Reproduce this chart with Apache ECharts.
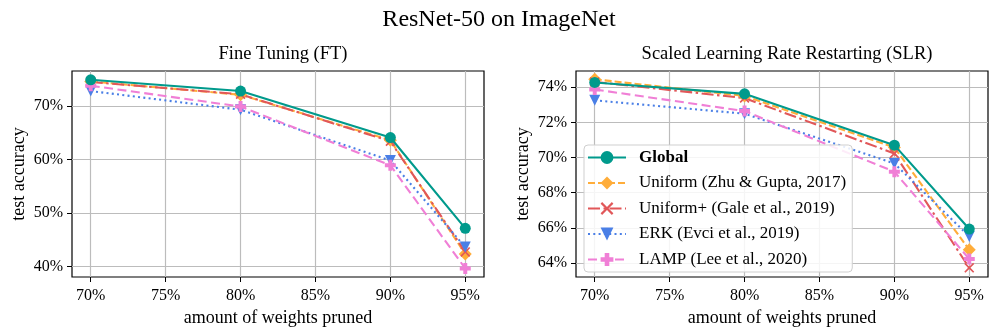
<!DOCTYPE html>
<html>
<head>
<meta charset="utf-8">
<script src="https://cdn.jsdelivr.net/npm/echarts@6/dist/echarts.min.js"></script>
<style>
html,body{margin:0;padding:0;background:#fff;}
#chart{width:989px;height:333px;}
</style>
</head>
<body>
<div id="chart"></div>
<script>
// ---- data ----
const prunedLevels = [70, 80, 90, 95];
const xTickValues = [70, 75, 80, 85, 90, 95];
const ftYTicks = [40, 50, 60, 70];
const slrYTicks = [64, 66, 68, 70, 72, 74];

const seriesNames = ['Global', 'Uniform (Zhu & Gupta, 2017)', 'Uniform+ (Gale et al., 2019)', 'ERK (Evci et al., 2019)', 'LAMP (Lee et al., 2020)'];

// Fine Tuning (FT)
const ftGlobal      = [74.9, 72.8, 64.1, 47.1];
const ftUniform     = [74.6, 72.1, 63.6, 42.3];
const ftUniformPlus = [74.5, 72.2, 63.4, 42.7];
const ftERK         = [72.8, 69.3, 59.8, 43.6];
const ftLAMP        = [73.8, 69.9, 58.9, 39.6];

// Scaled Learning Rate Restarting (SLR)
const slrGlobal      = [74.27, 73.62, 70.70, 65.93];
const slrUniform     = [74.45, 73.50, 70.57, 64.75];
const slrUniformPlus = [74.30, 73.38, 70.23, 63.72];
const slrERK         = [73.25, 72.49, 69.66, 65.51];
const slrLAMP        = [73.87, 72.64, 69.19, 64.22];

// ---- styles ----
const FONT = '"Liberation Serif", "DejaVu Serif", serif';
const styles = [
  {color: '#009a8c', type: 'solid', symbol: 'circle', size: 11, rotate: 0, z: 4},
  {color: '#ffad3a', type: [7, 3], symbol: 'diamond', size: 13, rotate: 0, z: 2},
  {color: '#e15759', type: [12, 3.5, 2.5, 3.5], symbol: 'path://M0,1.2L1.2,0L5,3.8L8.8,0L10,1.2L6.2,5L10,8.8L8.8,10L5,6.2L1.2,10L0,8.8L3.8,5Z', size: 10, rotate: 0, z: 2},
  {color: '#4a7fe6', type: [2, 3.3], symbol: 'triangle', size: 11, rotate: 180, z: 2},
  {color: '#f07fd6', type: [9, 4.5], symbol: 'path://M3.2,0H6.8V3.2H10V6.8H6.8V10H3.2V6.8H0V3.2H3.2Z', size: 11, rotate: 0, z: 3}
];

function makeSeries(values, idx, axisIdx) {
  const s = styles[idx];
  return {
    name: seriesNames[idx],
    type: 'line',
    xAxisIndex: axisIdx,
    yAxisIndex: axisIdx,
    data: prunedLevels.map((x, i) => [x, values[i]]),
    symbol: s.symbol,
    symbolSize: s.size,
    symbolRotate: s.rotate,
    showSymbol: true,
    z: s.z,
    lineStyle: {color: s.color, width: 2.1, type: s.type},
    itemStyle: {color: s.color, opacity: 1},
    emphasis: {disabled: true},
    animation: false
  };
}

function xAxisCfg(gridIndex) {
  return {
    type: 'value', gridIndex: gridIndex,
    min: 68.75, max: 96.25,
    name: 'amount of weights pruned', nameLocation: 'middle', nameGap: 31,
    nameTextStyle: {fontFamily: FONT, fontSize: 18, color: '#000'},
    axisLine: {show: false},
    axisTick: {show: true, length: 5, lineStyle: {color: '#000', width: 1}, customValues: xTickValues},
    axisLabel: {
      fontFamily: FONT, fontSize: 16, color: '#000', margin: 11,
      customValues: xTickValues,
      formatter: v => (xTickValues.indexOf(Math.round(v * 1000) / 1000) >= 0 ? v + '%' : '')
    },
    splitLine: {show: true, lineStyle: {color: '#bcbcbc', width: 1.2}}
  };
}

function yAxisCfg(gridIndex, min, max, ticks) {
  return {
    type: 'value', gridIndex: gridIndex,
    min: min, max: max,
    name: 'test accuracy', nameLocation: 'middle', nameGap: 44,
    nameTextStyle: {fontFamily: FONT, fontSize: 18, color: '#000'},
    axisLine: {show: false},
    axisTick: {show: true, length: 5, lineStyle: {color: '#000', width: 1}, customValues: ticks},
    axisLabel: {
      fontFamily: FONT, fontSize: 16, color: '#000', margin: 9,
      customValues: ticks,
      formatter: v => (ticks.indexOf(Math.round(v * 1000) / 1000) >= 0 ? v + '%' : '')
    },
    splitLine: {show: true, lineStyle: {color: '#bcbcbc', width: 1.2}}
  };
}

const ftData = [ftGlobal, ftUniform, ftUniformPlus, ftERK, ftLAMP];
const slrData = [slrGlobal, slrUniform, slrUniformPlus, slrERK, slrLAMP];

const series = [];
ftData.forEach((v, i) => series.push(makeSeries(v, i, 0)));
slrData.forEach((v, i) => series.push(makeSeries(v, i, 1)));

const chart = echarts.init(document.getElementById('chart'), null, {renderer: 'canvas'});
chart.setOption({
  animation: false,
  backgroundColor: '#fff',
  title: [
    {text: 'ResNet-50 on ImageNet', left: 494, textAlign: 'center', top: 3,
     textStyle: {fontFamily: FONT, fontSize: 24, fontWeight: 'normal', color: '#000'}},
    {text: 'Fine Tuning (FT)', left: 278, textAlign: 'center', top: 40,
     textStyle: {fontFamily: FONT, fontSize: 18.5, fontWeight: 'normal', color: '#000'}},
    {text: 'Scaled Learning Rate Restarting (SLR)', left: 782, textAlign: 'center', top: 40,
     textStyle: {fontFamily: FONT, fontSize: 18.5, fontWeight: 'normal', color: '#000'}}
  ],
  grid: [
    {left: 72, top: 71, width: 412, height: 206, show: true, borderColor: '#000', borderWidth: 1.2, backgroundColor: 'transparent'},
    {left: 576, top: 71, width: 412, height: 206, show: true, borderColor: '#000', borderWidth: 1.2, backgroundColor: 'transparent'}
  ],
  xAxis: [xAxisCfg(0), xAxisCfg(1)],
  yAxis: [yAxisCfg(0, 38.0, 76.55, ftYTicks), yAxisCfg(1, 63.2, 74.92, slrYTicks)],
  legend: {
    orient: 'vertical',
    left: 584, top: 145,
    itemWidth: 38, itemHeight: 16, itemGap: 8.5,
    padding: [4, 6, 4, 3],
    backgroundColor: 'rgba(255,255,255,0.85)',
    borderColor: '#cfcfcf', borderWidth: 1, borderRadius: 4,
    textStyle: {fontFamily: FONT, fontSize: 17, color: '#000', padding: [0, 0, 0, 8]},
    selectedMode: false,
    data: [
      {name: seriesNames[0], textStyle: {fontWeight: 'bold'}},
      {name: seriesNames[1]},
      {name: seriesNames[2]},
      {name: seriesNames[3]},
      {name: seriesNames[4]}
    ]
  },
  series: series
});
</script>
</body>
</html>
